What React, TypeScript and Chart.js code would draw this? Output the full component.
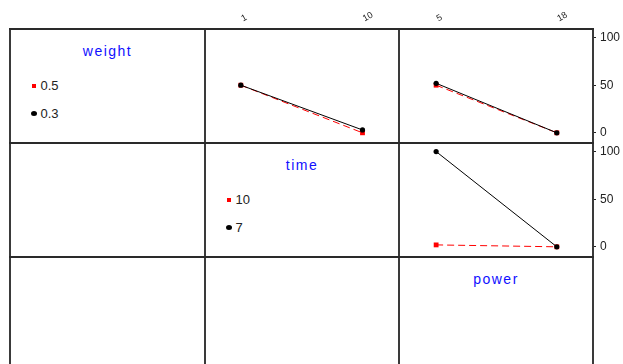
import React, { useEffect, useRef } from "react";
import { Chart, registerables } from "chart.js";

Chart.register(...registerables);

// ---- data ----
const timeLevels = [1, 10];
const powerLevels = [5, 18];
const yTickValues = [0, 50, 100];

const weightLegend = ["0.5", "0.3"]; // red, black
const timeLegend = ["10", "7"]; // red, black

// weight traces across time
const weightTime_05 = [50, 0];
const weightTime_03 = [50, 3];
// weight traces across power
const weightPower_05 = [50, 0];
const weightPower_03 = [52, 0];
// time traces across power
const timePower_10 = [2, 0];
const timePower_7 = [100, 0];

const FONT = "'Liberation Sans', Arial, sans-serif";

// ---- layout (pixels) ----
const colX = [10, 205, 399, 593];
const rowY = [29, 143, 257, 371];

type PanelSpec = {
  left: number;
  top: number;
  width: number;
  height: number;
  xLevels: number[];
  xMin: number;
  xMax: number;
  red: number[];
  black: number[];
  topAxis: boolean;
  rightAxis: boolean;
};

function buildConfig(p: PanelSpec): any {
  const pts = (vals: number[]) => p.xLevels.map((x, i) => ({ x, y: vals[i] }));
  return {
    type: "scatter",
    data: {
      datasets: [
        {
          data: pts(p.black),
          showLine: true,
          borderColor: "#000000",
          backgroundColor: "#000000",
          borderWidth: 1,
          pointStyle: "circle",
          pointRadius: 2.6,
          pointBorderWidth: 0,
        },
        {
          data: pts(p.red),
          showLine: true,
          borderColor: "#ff0000",
          backgroundColor: "#ff0000",
          borderWidth: 1,
          borderDash: [7, 4],
          pointStyle: "rect",
          pointRadius: 3.4,
          pointBorderWidth: 0,
        },
      ],
    },
    options: {
      animation: false,
      responsive: false,
      maintainAspectRatio: false,
      layout: { padding: 0, autoPadding: false },
      plugins: { legend: { display: false }, tooltip: { enabled: false } },
      scales: {
        x: {
          type: "linear",
          position: "top",
          display: p.topAxis,
          min: p.xMin,
          max: p.xMax,
          afterBuildTicks: (s: any) => {
            s.ticks = p.xLevels.map((v) => ({ value: v }));
          },
          afterFit: (s: any) => {
            s.height = p.topAxis ? rowY[0] : 0;
            s.paddingLeft = 0;
            s.paddingRight = 0;
            s.paddingTop = 0;
            s.paddingBottom = 0;
          },
          grid: { display: false, drawTicks: false },
          border: { display: false },
          ticks: {
            minRotation: 30,
            maxRotation: 30,
            padding: 5,
            labelOffset: 6.5,
            color: "#222222",
            font: { size: 9, family: FONT },
          },
        },
        y: {
          type: "linear",
          position: "right",
          display: p.rightAxis,
          min: -10.7,
          max: 109,
          afterBuildTicks: (s: any) => {
            s.ticks = yTickValues.map((v) => ({ value: v }));
          },
          afterFit: (s: any) => {
            s.width = p.rightAxis ? 30 : 0;
            s.paddingLeft = 0;
            s.paddingRight = 0;
            s.paddingTop = 0;
            s.paddingBottom = 0;
          },
          grid: {
            drawOnChartArea: false,
            drawTicks: true,
            tickLength: 3,
            color: "#222222",
            lineWidth: 1,
          },
          border: { display: false },
          ticks: {
            padding: 4,
            color: "#222222",
            font: { size: 12, family: FONT },
          },
        },
      },
    },
  };
}

const panels: PanelSpec[] = [
  {
    left: colX[1],
    top: 0,
    width: colX[2] - colX[1],
    height: rowY[1],
    xLevels: timeLevels,
    xMin: -1.65,
    xMax: 12.7,
    red: weightTime_05,
    black: weightTime_03,
    topAxis: true,
    rightAxis: false,
  },
  {
    left: colX[2],
    top: 0,
    width: colX[3] - colX[2] + 30,
    height: rowY[1],
    xLevels: powerLevels,
    xMin: 1.0,
    xMax: 21.9,
    red: weightPower_05,
    black: weightPower_03,
    topAxis: true,
    rightAxis: true,
  },
  {
    left: colX[2],
    top: rowY[1],
    width: colX[3] - colX[2] + 30,
    height: rowY[2] - rowY[1],
    xLevels: powerLevels,
    xMin: 1.0,
    xMax: 21.9,
    red: timePower_10,
    black: timePower_7,
    topAxis: false,
    rightAxis: true,
  },
];

function PanelChart({ spec }: { spec: PanelSpec }) {
  const ref = useRef<HTMLCanvasElement | null>(null);
  useEffect(() => {
    if (!ref.current) return;
    const chart = new Chart(ref.current, buildConfig(spec));
    return () => chart.destroy();
  }, [spec]);
  return (
    <canvas
      ref={ref}
      width={spec.width}
      height={spec.height}
      style={{
        position: "absolute",
        left: spec.left,
        top: spec.top,
        width: spec.width,
        height: spec.height,
      }}
    />
  );
}

function Title({ text, col, row }: { text: string; col: number; row: number }) {
  return (
    <div
      style={{
        position: "absolute",
        left: colX[col],
        width: colX[col + 1] - colX[col],
        top: rowY[row] + 14,
        lineHeight: "16px",
        fontSize: 14,
        letterSpacing: "1.5px",
        fontFamily: FONT,
        color: "#1010ff",
        textAlign: "center",
      }}
    >
      {text}
    </div>
  );
}

function Legend({ labels, col, row }: { labels: string[]; col: number; row: number }) {
  const x0 = colX[col];
  const y0 = rowY[row];
  const offsets = [56.5, 84.5];
  return (
    <>
      {labels.map((lab, i) => (
        <React.Fragment key={lab}>
          <div
            style={{
              position: "absolute",
              left: x0 + (i === 0 ? 22 : 20.5),
              top: y0 + offsets[i] - (i === 0 ? 2 : 2.5),
              width: i === 0 ? 4 : 6,
              height: i === 0 ? 4 : 5,
              borderRadius: i === 0 ? 0 : "50%",
              background: i === 0 ? "#ff0000" : "#000000",
            }}
          />
          <div
            style={{
              position: "absolute",
              left: x0 + 30.5,
              top: y0 + offsets[i] - 8,
              lineHeight: "16px",
              fontSize: 13,
              fontFamily: FONT,
              color: "#222222",
            }}
          >
            {lab}
          </div>
        </React.Fragment>
      ))}
    </>
  );
}

function Lines() {
  const items: React.ReactNode[] = [];
  colX.forEach((x, i) =>
    items.push(
      <div
        key={"v" + i}
        style={{
          position: "absolute",
          left: x - 1,
          top: rowY[0] - 1,
          width: 2,
          height: 364 - rowY[0] + 1,
          background: "#3a3a3a",
        }}
      />
    )
  );
  rowY.slice(0, 3).forEach((y, i) =>
    items.push(
      <div
        key={"h" + i}
        style={{
          position: "absolute",
          left: colX[0] - 1,
          top: y - 1,
          width: colX[3] - colX[0] + 2,
          height: 2,
          background: "#2a2a2a",
        }}
      />
    )
  );
  return <>{items}</>;
}

export default function App() {
  return (
    <div
      style={{
        position: "absolute",
        left: 0,
        top: 0,
        width: 623,
        height: 364,
        overflow: "hidden",
        background: "#ffffff",
      }}
    >
      {panels.map((p, i) => (
        <PanelChart key={i} spec={p} />
      ))}
      <Title text="weight" col={0} row={0} />
      <Title text="time" col={1} row={1} />
      <Title text="power" col={2} row={2} />
      <Legend labels={weightLegend} col={0} row={0} />
      <Legend labels={timeLegend} col={1} row={1} />
      <Lines />
    </div>
  );
}
